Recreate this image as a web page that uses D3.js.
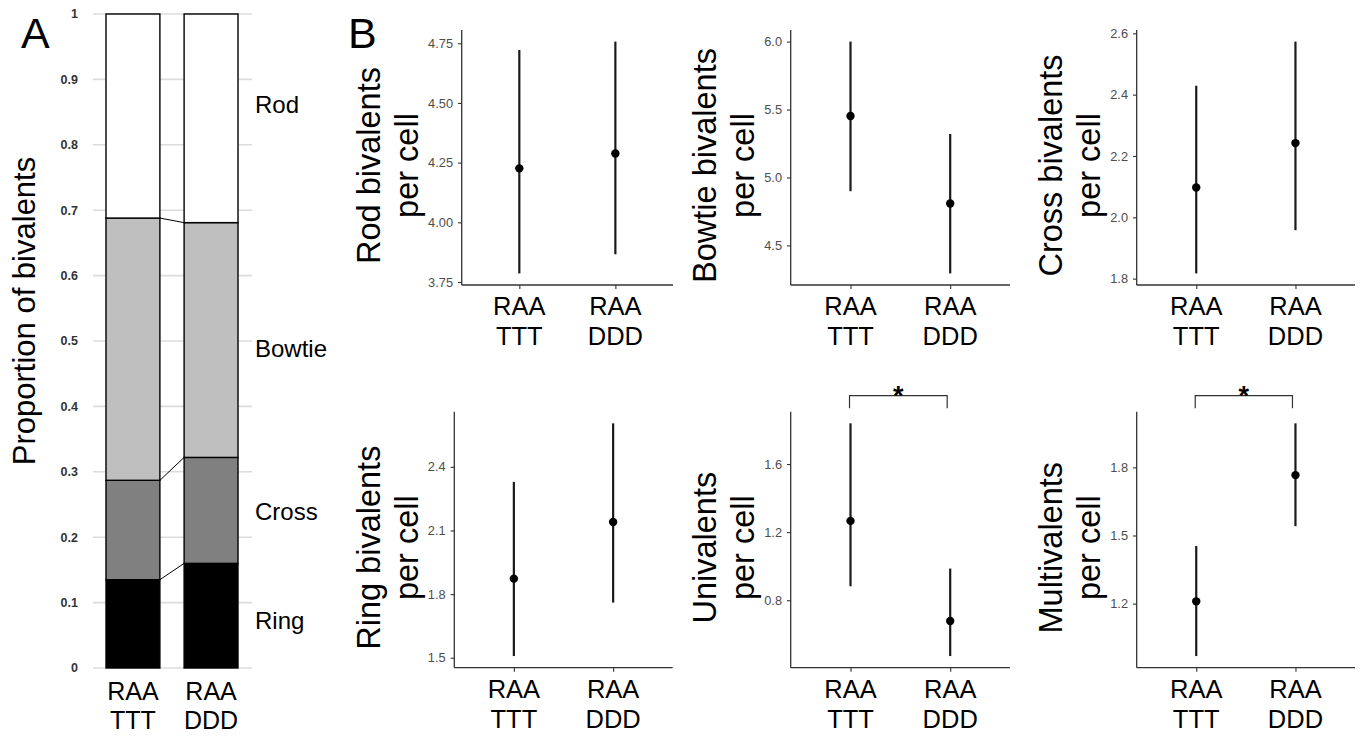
<!DOCTYPE html>
<html>
<head>
<meta charset="utf-8">
<script src="https://cdn.jsdelivr.net/npm/d3@7"></script>
<style>
  html, body { margin: 0; padding: 0; background: #fff; }
  svg { display: block; font-family: "Liberation Sans", Arial, sans-serif; }
</style>
</head>
<body>
<svg id="chart" width="1362" height="736"></svg>
<script>
// ---------- DATA ----------
// Panel A: proportions of bivalent types (stacked from bottom)
const groupLine1 = ["RAA", "RAA"];
const groupLine2 = ["TTT", "DDD"];
const groupKeys = ["TTT", "DDD"];
const bivalentTypes = ["Ring", "Cross", "Bowtie", "Rod"];
const propTTT = [0.135, 0.152, 0.401, 0.312];
const propDDD = [0.160, 0.162, 0.359, 0.319];
const typeColors = ["#000000", "#808080", "#bfbfbf", "#ffffff"];
const propTicks = [0, 0.1, 0.2, 0.3, 0.4, 0.5, 0.6, 0.7, 0.8, 0.9, 1];
const typeLabelAt = [0.072, 0.239, 0.488, 0.862];

// Panel B: means with confidence intervals (TTT, DDD)
const panelTitles = ["Rod bivalents", "Bowtie bivalents", "Cross bivalents",
                     "Ring bivalents", "Univalents", "Multivalents"];
const rodMean = [4.226, 4.288], rodLow = [3.786, 3.866], rodHigh = [4.722, 4.757];
const bowtieMean = [5.452, 4.808], bowtieLow = [4.899, 4.294], bowtieHigh = [6.0, 5.32];
const crossMean = [2.097, 2.242], crossLow = [1.817, 1.958], crossHigh = [2.429, 2.573];
const ringMean = [1.873, 2.140], ringLow = [1.508, 1.760], ringHigh = [2.329, 2.605];
const univMean = [1.266, 0.678], univLow = [0.882, 0.472], univHigh = [1.839, 0.986];
const multiMean = [1.210, 1.766], multiLow = [0.969, 1.541], multiHigh = [1.454, 1.994];
const rodTicks = [3.75, 4.00, 4.25, 4.50, 4.75];
const bowtieTicks = [4.5, 5.0, 5.5, 6.0];
const crossTicks = [1.8, 2.0, 2.2, 2.4, 2.6];
const ringTicks = [1.5, 1.8, 2.1, 2.4];
const univTicks = [0.8, 1.2, 1.6];
const multiTicks = [1.2, 1.5, 1.8];
const significant = [false, false, false, false, true, true];

// ---------- DRAW ----------
const svg = d3.select("#chart");
const FONT = '"Liberation Sans", Arial, sans-serif';

// ===== Panel A =====
(function () {
  const y = d3.scaleLinear().domain([0, 1]).range([668, 14]);
  const x = d3.scaleBand().domain(groupKeys).range([106, 238]).paddingInner(0.31).paddingOuter(0);
  const g = svg.append("g");

  // grid lines
  g.selectAll("line.grid").data(propTicks).join("line")
    .attr("x1", 93).attr("x2", 252)
    .attr("y1", d => y(d)).attr("y2", d => y(d))
    .attr("stroke", "#dcdcdc").attr("stroke-width", 1.6);

  // tick labels
  g.selectAll("text.tick").data(propTicks).join("text")
    .attr("x", 78).attr("y", d => y(d)).attr("dy", "0.35em")
    .attr("text-anchor", "end")
    .attr("font-size", 12.5).attr("font-weight", "bold").attr("fill", "#333")
    .text(d => d === 0 ? "0" : d === 1 ? "1" : d3.format(".1f")(d));

  // stacked data
  const rows = groupKeys.map((k, i) => {
    const vals = i === 0 ? propTTT : propDDD;
    const o = { group: k };
    bivalentTypes.forEach((t, j) => o[t] = vals[j]);
    return o;
  });
  const stack = d3.stack().keys(bivalentTypes)(rows);

  // connector lines between bars at each boundary
  stack.slice(0, 3).forEach(layer => {
    g.append("line")
      .attr("x1", x("TTT") + x.bandwidth()).attr("y1", y(layer[0][1]))
      .attr("x2", x("DDD")).attr("y2", y(layer[1][1]))
      .attr("stroke", "#000").attr("stroke-width", 1);
  });

  stack.forEach((layer, li) => {
    g.selectAll(null).data(layer).join("rect")
      .attr("x", d => x(d.data.group))
      .attr("width", x.bandwidth())
      .attr("y", d => y(d[1]))
      .attr("height", d => y(d[0]) - y(d[1]))
      .attr("fill", typeColors[li])
      .attr("stroke", "#000").attr("stroke-width", 1.4);
  });

  // type labels
  g.selectAll("text.type").data(bivalentTypes).join("text")
    .attr("x", 255).attr("y", (d, i) => y(typeLabelAt[i])).attr("dy", "0.35em")
    .attr("font-size", 24).attr("fill", "#000")
    .text(d => d);

  // x labels
  groupKeys.forEach((k, i) => {
    const cx = x(k) + x.bandwidth() / 2;
    g.append("text").attr("x", cx).attr("y", 700).attr("text-anchor", "middle")
      .attr("font-size", 25).text(groupLine1[i]);
    g.append("text").attr("x", cx).attr("y", 729).attr("text-anchor", "middle")
      .attr("font-size", 25).text(groupLine2[i]);
  });

  // y title
  g.append("text")
    .attr("transform", "translate(35,311) rotate(-90)")
    .attr("text-anchor", "middle").attr("font-size", 31)
    .text("Proportion of bivalents");

  // panel letter
  svg.append("text").attr("x", 21).attr("y", 48).attr("font-size", 43).text("A");
})();

// ===== Panel B =====
svg.append("text").attr("x", 348).attr("y", 48).attr("font-size", 43).text("B");

const panelData = [
  { mean: rodMean, low: rodLow, high: rodHigh, ticks: rodTicks, fmt: ".2f" },
  { mean: bowtieMean, low: bowtieLow, high: bowtieHigh, ticks: bowtieTicks, fmt: ".1f" },
  { mean: crossMean, low: crossLow, high: crossHigh, ticks: crossTicks, fmt: ".1f" },
  { mean: ringMean, low: ringLow, high: ringHigh, ticks: ringTicks, fmt: ".1f" },
  { mean: univMean, low: univLow, high: univHigh, ticks: univTicks, fmt: ".1f" },
  { mean: multiMean, low: multiLow, high: multiHigh, ticks: multiTicks, fmt: ".1f" }
];
const panelBoxes = [
  { x0: 461.7, x1: 673, y0: 30, y1: 285 },
  { x0: 790.7, x1: 1010, y0: 30, y1: 285 },
  { x0: 1136.7, x1: 1355, y0: 30, y1: 285 },
  { x0: 454.3, x1: 672.7, y0: 411.7, y1: 667.7 },
  { x0: 790.7, x1: 1010, y0: 411.7, y1: 667.7 },
  { x0: 1136.7, x1: 1355, y0: 411.7, y1: 667.7 }
];

panelData.forEach((p, i) => {
  const b = panelBoxes[i];
  const lo = d3.min(p.low), hi = d3.max(p.high);
  const pad = (hi - lo) * 0.05;
  const y = d3.scaleLinear().domain([lo - pad, hi + pad]).range([b.y1, b.y0]);
  const x = d3.scalePoint().domain(groupKeys).range([b.x0, b.x1]).padding(0.6);
  const g = svg.append("g");

  // y axis
  const yAxis = d3.axisLeft(y).tickValues(p.ticks).tickSize(3.7).tickPadding(5)
    .tickFormat(d3.format(p.fmt));
  const ya = g.append("g").attr("transform", `translate(${b.x0},0)`).call(yAxis);
  ya.attr("font-size", null).attr("font-family", null);
  ya.select(".domain").attr("d", `M0,${b.y0}V${b.y1}`).attr("stroke", "#333").attr("stroke-width", 1.3);
  ya.selectAll(".tick line").attr("stroke", "#333").attr("stroke-width", 1.1);
  ya.selectAll(".tick text").style("font-size", "12.8px").attr("fill", "#4d4d4d").style("font-family", FONT);

  // x axis
  const xAxis = d3.axisBottom(x).tickSize(4).tickFormat("");
  const xa = g.append("g").attr("transform", `translate(0,${b.y1})`).call(xAxis);
  xa.select(".domain").attr("d", `M${b.x0},0H${b.x1}`).attr("stroke", "#333").attr("stroke-width", 1.3);
  xa.selectAll(".tick line").attr("stroke", "#333").attr("stroke-width", 1.1);
  groupKeys.forEach((k, j) => {
    g.append("text").attr("x", x(k)).attr("y", b.y1 + 30).attr("text-anchor", "middle")
      .attr("font-size", 25.5).text(groupLine1[j]);
    g.append("text").attr("x", x(k)).attr("y", b.y1 + 60).attr("text-anchor", "middle")
      .attr("font-size", 25.5).text(groupLine2[j]);
  });

  // error bars & points
  groupKeys.forEach((k, j) => {
    g.append("line")
      .attr("x1", x(k)).attr("x2", x(k))
      .attr("y1", y(p.low[j])).attr("y2", y(p.high[j]))
      .attr("stroke", "#1a1a1a").attr("stroke-width", 2.2);
    g.append("circle")
      .attr("cx", x(k)).attr("cy", y(p.mean[j])).attr("r", 4.2)
      .attr("fill", "#000");
  });

  // y title (two lines)
  let maxW = 0;
  ya.selectAll(".tick text").each(function () { maxW = Math.max(maxW, this.getComputedTextLength()); });
  const labelLeft = b.x0 - 3.7 - 5 - maxW;
  const base2 = labelLeft - 10;
  const base1 = base2 - 38;
  const cy = (b.y0 + b.y1) / 2 + 8;
  g.append("text").attr("transform", `translate(${base1},${cy}) rotate(-90)`)
    .attr("text-anchor", "middle").attr("font-size", 32.5).text(panelTitles[i]);
  g.append("text").attr("transform", `translate(${base2},${cy}) rotate(-90)`)
    .attr("text-anchor", "middle").attr("font-size", 32.5).text("per cell");

  // significance bracket
  if (significant[i]) {
    const by = b.y0 - 16, tip = b.y0 - 3.4;
    const xa1 = x(groupKeys[0]) - 1, xa2 = x(groupKeys[1]) - 3;
    g.append("path")
      .attr("d", `M${xa1},${tip}V${by}H${xa2}V${tip}`)
      .attr("fill", "none").attr("stroke", "#333").attr("stroke-width", 1.2);
    g.append("text").attr("x", (xa1 + xa2) / 2).attr("y", by + 9)
      .attr("text-anchor", "middle").attr("font-size", 27).attr("font-weight", "bold").text("*");
  }
});
</script>
</body>
</html>
